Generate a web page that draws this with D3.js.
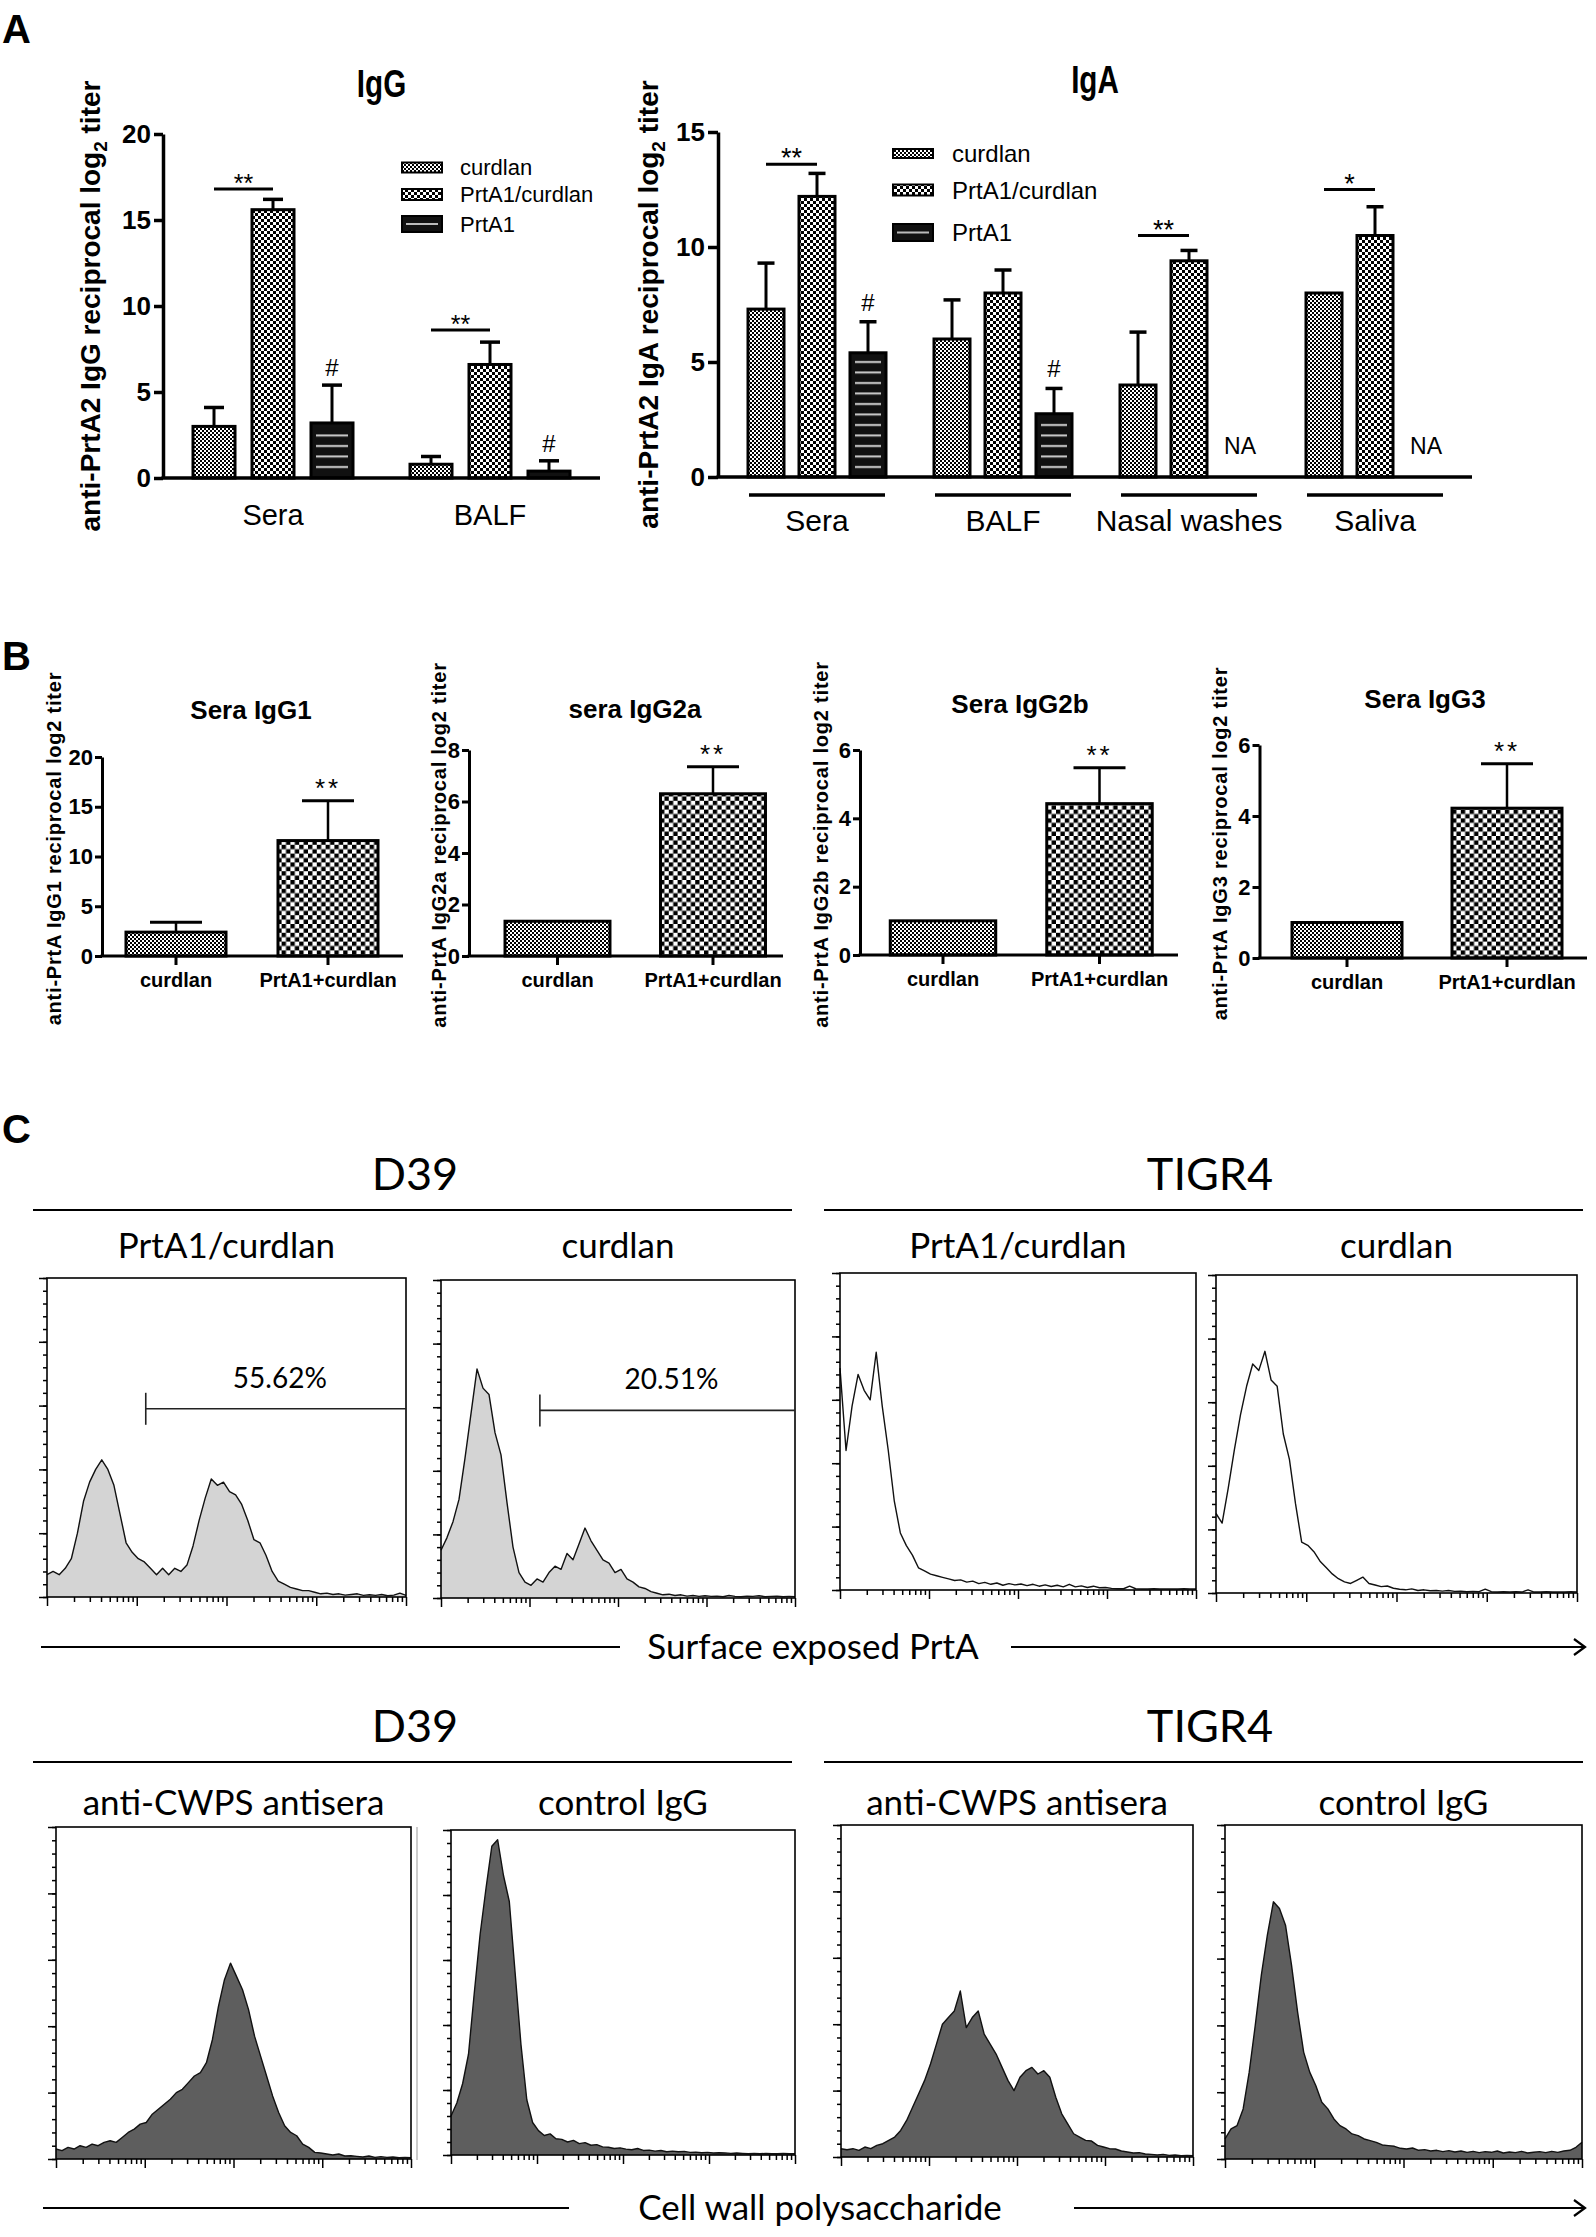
<!DOCTYPE html>
<html><head><meta charset="utf-8">
<script src="https://cdn.jsdelivr.net/npm/d3@7/dist/d3.min.js"></script>
<style>html,body{margin:0;padding:0;background:#fff;}svg{display:block;}</style>
</head><body>
<svg id="fig" width="1596" height="2237" xmlns="http://www.w3.org/2000/svg"></svg>
<script>
// ===================== DATA =====================
// Panel A
const seriesA = ["curdlan", "PrtA1/curdlan", "PrtA1"];
const igGGroups = ["Sera", "BALF"];
const igGMeans = [[3.0, 15.6, 3.2], [0.8, 6.6, 0.4]];
const igGSem = [[1.1, 0.6, 2.2], [0.45, 1.3, 0.6]];
const igGTicks = [0, 5, 10, 15, 20];
const igGSig = [["Sera", 16.8, "**"], ["BALF", 8.6, "**"]];
const igGHash = ["Sera", "BALF"];

const igAGroups = ["Sera", "BALF", "Nasal washes", "Saliva"];
const igAMeans = [[7.3, 12.2, 5.4], [6.0, 8.0, 2.75], [4.0, 9.4, null], [8.0, 10.5, null]];
const igASem = [[2.0, 1.0, 1.35], [1.7, 1.0, 1.1], [2.3, 0.45, null], [0, 1.25, null]];
const igATicks = [0, 5, 10, 15];
const igASig = [["Sera", 13.6, "**"], ["Nasal washes", 10.5, "**"], ["Saliva", 12.5, "*"]];
const igAHash = ["Sera", "BALF"];

// Panel B
const catsB = ["curdlan", "PrtA1+curdlan"];
const bTitles = ["Sera IgG1", "sera IgG2a", "Sera IgG2b", "Sera IgG3"];
const bYTitles = ["anti-PrtA IgG1 reciprocal log2 titer", "anti-PrtA IgG2a reciprocal log2 titer",
                  "anti-PrtA IgG2b reciprocal log2 titer", "anti-PrtA IgG3 reciprocal log2 titer"];
const bMeans = [[2.4, 11.6], [1.35, 6.3], [1.0, 4.43], [1.0, 4.22]];
const bSem = [[1.0, 4.0], [0, 1.05], [0, 1.05], [0, 1.25]];
const bYMax = [20, 8, 6, 6];
const bTickStep = [5, 2, 2, 2];
const bSig = ["**", "**", "**", "**"];

// Panel C (flow histograms, counts per channel bin, 60 bins over 4 log decades)
const cStrains = ["D39", "TIGR4"];
const cTopConds = ["PrtA1/curdlan", "curdlan"];
const cBotConds = ["anti-CWPS antisera", "control IgG"];
const cAxisTitles = ["Surface exposed PrtA", "Cell wall polysaccharide"];
const cGateLabels = ["55.62%", "20.51%"];
const cGateStart = [12.6, 13.1];
const cGateLevel = [59, 59];
const histD39PrtA = [7,8,7,9,12,20,30,36,40,43,40,35,26,17,14,12,11,9,7,9,7,9,8,10,16,24,31,37,35,36,33,32,29,24,18,17,13,8,5,4,3,2.5,2,2,1.5,1,1.2,0.8,1,0.6,0.8,1,0.5,0.7,0.5,0.8,0.4,0.6,1.2,0.5];
const histD39Curd = [15,19,24,31,44,58,72,66,64,52,45,30,16,8,5,4,6,5,8,10,9,14,12,17,22,18,15,12,11,8,9,6,5,3.5,3,2,1.5,1,1.2,0.8,1,0.6,0.8,0.5,0.7,0.5,0.6,0.4,0.8,0.5,0.4,0.6,0.5,0.7,0.4,0.5,0.6,0.4,0.5,0.4];
const histT4PrtA = [70,44,58,68,63,60,75,58,44,28,18,14,11,7,6,5,4.5,4,3.5,3,3.2,2.5,2.8,2,2.4,1.8,2.2,1.5,2,1.6,1.9,1.4,1.8,1.2,1.6,1.1,1.5,1,1.8,1,1.3,0.8,1.2,0.7,0.8,0.5,0.4,0.4,1.2,0.4,0.3,0.3,0.4,0.3,0.3,0.3,0.3,0.4,0.3,0.3];
const histT4Curd = [25,22,33,45,56,65,72,70,76,67,65,50,42,28,16,15,13,10,8,6,4.5,3.5,3,4,5,3,2.5,2,2.2,1.5,1.2,1,1.3,0.8,1,0.7,0.8,0.6,0.8,0.5,0.6,0.4,0.5,0.4,1.2,0.4,0.3,0.4,0.3,0.4,0.3,1.0,0.3,0.3,0.4,0.3,0.3,0.3,0.4,0.3];
const histD39Anti = [3,2.5,3.5,3,4,3.5,4.5,4,5,5.5,5,6.5,8,9,10.5,11,13.5,15,16.5,18,20,21,23,25,26,29,36,46,54,59,55,51,45,37,31,25,19,14,10,8,7,4.5,3.5,2,1.8,1.5,1.2,1.5,0.9,1,0.8,0.6,0.9,0.5,0.7,0.5,0.6,0.4,0.5,0.4];
const histD39Ctrl = [12,16,22,31,50,68,82,95,97,86,78,56,34,17,10,7.5,6,6.5,5,4.8,4,4.5,3.5,3.8,3,3.2,2.5,2.4,2,2.2,1.8,1.6,2,1.4,1.5,1.2,1.4,1,1.2,1,1.1,0.8,0.9,0.7,0.8,0.6,0.7,0.6,0.5,0.6,0.5,0.4,0.5,0.4,0.5,0.4,0.4,0.5,0.4,0.4];
const histT4Anti = [2.5,2.2,2.5,2,3,2.5,3.5,4,5,6,8,11,15,19,23,28,34,40,42,44,50,39,42,44,37,34,31,27,23,20,24,26,27,25,26,24,18,13,10,7,6,5,4.8,3.5,3,2.5,2.4,1.8,1.5,1.2,1.3,0.9,0.8,0.6,0.8,0.5,0.6,0.4,0.5,0.4];
const histT4Ctrl = [6,9,10,15,26,40,55,67,77,75,70,58,44,32,26,22,17,15,12,10,9,7.5,7,6,5.5,5,4.2,4,3.8,3.2,3,3.3,2.6,2.8,2.4,2.6,2.2,2.5,2.1,2.4,2,2.3,1.9,2.2,2,2.4,1.8,2.1,1.9,2.3,1.8,2,2.2,1.9,2.3,2,2.4,2.6,3.5,5];

// ===================== DRAWING =====================
const FONT = "'Liberation Sans', Arial, Helvetica, sans-serif";
const CFONT = "Lato, Carlito, 'Open Sans', sans-serif";
const svg = d3.select("#fig");
svg.append("rect").attr("width", 1596).attr("height", 2237).attr("fill", "#fff");
const defs = svg.append("defs");

function checker(id, cell) {
  const p = defs.append("pattern").attr("id", id).attr("patternUnits", "userSpaceOnUse")
    .attr("width", cell * 2).attr("height", cell * 2);
  p.append("rect").attr("width", cell * 2).attr("height", cell * 2).attr("fill", "#fff");
  p.append("rect").attr("width", cell).attr("height", cell).attr("fill", "#000");
  p.append("rect").attr("x", cell).attr("y", cell).attr("width", cell).attr("height", cell).attr("fill", "#000");
}
checker("chkFine", 2);
checker("chkCoarse", 3);
checker("chkFineB", 2);
checker("chkCoarseB", 4.4);
const sp = defs.append("pattern").attr("id", "stripes").attr("patternUnits", "userSpaceOnUse")
  .attr("width", 10).attr("height", 10.5);
sp.append("rect").attr("y", 4).attr("width", 10).attr("height", 2).attr("fill", "#cfcfcf");

const fillA = {"curdlan": "url(#chkFine)", "PrtA1/curdlan": "url(#chkCoarse)", "PrtA1": "#111"};

function txt(g, x, y, s, size, o = {}) {
  const t = g.append("text").text(s)
    .attr("font-family", o.family || FONT).attr("font-size", size)
    .attr("font-weight", o.weight || "normal").attr("text-anchor", o.anchor || "middle")
    .attr("fill", "#000").attr("letter-spacing", o.ls || null);
  if (o.sx) t.attr("transform", `translate(${x},${y}) scale(${o.sx},1)`);
  else t.attr("x", x).attr("y", y);
  return t;
}
function styleAxis(g, sw, size, weight, family) {
  g.select(".domain").attr("stroke", "#000").attr("stroke-width", sw);
  g.selectAll(".tick line").attr("stroke", "#000").attr("stroke-width", sw);
  g.selectAll(".tick text").attr("font-size", size).attr("font-weight", weight)
    .attr("font-family", family || FONT).attr("fill", "#000");
}

// Panel letters
txt(svg, 2, 43, "A", 40, {weight: "bold", anchor: "start"});
txt(svg, 2, 670, "B", 40, {weight: "bold", anchor: "start"});
txt(svg, 2, 1143, "C", 40, {weight: "bold", anchor: "start"});

// ---------- Panel A ----------
function panelA(c) {
  const g = svg.append("g");
  const y = d3.scaleLinear().domain([0, c.yMax]).range([c.y0, c.y1]);
  const xo = d3.scaleBand().domain(c.groups).range(c.band);
  const xi = d3.scaleBand().domain(seriesA).range(c.inner).paddingInner(c.pad);
  const bx = (gn, s) => xo(gn) + xi(s);
  const cx = (gn, s) => bx(gn, s) + xi.bandwidth() / 2;

  c.groups.forEach((gn, gi) => seriesA.forEach((s, si) => {
    const m = c.means[gi][si], e = c.sem[gi][si];
    if (m == null || !e) return;
    const x = cx(gn, s);
    g.append("line").attr("x1", x).attr("x2", x).attr("y1", y(m)).attr("y2", y(m + e))
      .attr("stroke", "#000").attr("stroke-width", 3);
    g.append("line").attr("x1", x - c.capW / 2).attr("x2", x + c.capW / 2).attr("y1", y(m + e)).attr("y2", y(m + e))
      .attr("stroke", "#000").attr("stroke-width", 3.5);
  }));
  c.groups.forEach((gn, gi) => seriesA.forEach((s, si) => {
    const m = c.means[gi][si];
    if (m == null) return;
    g.append("rect").attr("x", bx(gn, s)).attr("y", y(m)).attr("width", xi.bandwidth())
      .attr("height", y(0) - y(m)).attr("fill", fillA[s]).attr("stroke", "#000").attr("stroke-width", 3);
    if (s === "PrtA1") {
      g.append("rect").attr("x", bx(gn, s) + 5).attr("y", y(m) + 4).attr("width", xi.bandwidth() - 10)
        .attr("height", Math.max(0, y(0) - y(m) - 7)).attr("fill", "url(#stripes)");
    }
  }));
  // y axis
  const ya = g.append("g").attr("transform", `translate(${c.axisX},0)`)
    .call(d3.axisLeft(y).tickValues(c.ticks).tickSize(c.tick).tickSizeOuter(0).tickPadding(3).tickFormat(d3.format("d")));
  styleAxis(ya, 3.5, c.tickFont, "bold");
  // baseline
  g.append("line").attr("x1", c.axisX - 1.5).attr("x2", c.axisX1).attr("y1", y(0)).attr("y2", y(0))
    .attr("stroke", "#000").attr("stroke-width", 3.5);
  // category labels
  const xa = g.append("g").attr("transform", `translate(0,${c.labelY})`)
    .call(d3.axisBottom(xo).tickSize(0).tickPadding(0));
  xa.select(".domain").remove();
  xa.selectAll(".tick line").remove();
  xa.selectAll(".tick text").attr("y", 0).attr("dy", 0).attr("font-size", c.catFont)
    .attr("font-family", FONT).attr("fill", "#000");
  if (c.underline) {
    c.groups.forEach(gn => {
      g.append("line").attr("x1", xo(gn) + 25).attr("x2", xo(gn) + xo.bandwidth() - 25)
        .attr("y1", c.underline).attr("y2", c.underline).attr("stroke", "#000").attr("stroke-width", 3.5);
    });
  }
  // significance
  c.sig.forEach(([gn, lvl, lab]) => {
    const x1 = cx(gn, seriesA[0]), x2 = cx(gn, seriesA[1]);
    g.append("line").attr("x1", x1).attr("x2", x2).attr("y1", y(lvl)).attr("y2", y(lvl))
      .attr("stroke", "#000").attr("stroke-width", 3);
    txt(g, (x1 + x2) / 2, y(lvl) + 3, lab, c.starFont);
  });
  c.hash.forEach(gn => {
    const gi = c.groups.indexOf(gn);
    const top = c.means[gi][2] + c.sem[gi][2];
    txt(g, cx(gn, "PrtA1"), y(top) - c.hashOff, "#", 24);
  });
  c.groups.forEach((gn, gi) => {
    if (c.means[gi][2] == null) txt(g, cx(gn, "PrtA1"), c.naY, "NA", 23);
  });
  // legend
  seriesA.forEach((s, i) => {
    const cy = c.leg.rows[i], h = c.leg.h[i];
    g.append("rect").attr("x", c.leg.x).attr("y", cy - h / 2).attr("width", 40).attr("height", h)
      .attr("fill", fillA[s]).attr("stroke", "#000").attr("stroke-width", 2);
    if (s === "PrtA1") g.append("rect").attr("x", c.leg.x + 4).attr("y", cy - 1).attr("width", 32).attr("height", 2).attr("fill", "#bbb");
    txt(g, c.leg.tx, cy + c.leg.font * 0.36, s, c.leg.font, {anchor: "start"});
  });
  // titles (condensed bold)
  txt(g, (c.axisX + c.axisX1) / 2, c.titleY, c.title, 38, {weight: "bold", sx: 0.78});
  const t = g.append("text").attr("transform", `translate(${c.ytX},${(c.y0 + c.y1) / 2}) rotate(-90)`)
    .attr("text-anchor", "middle").attr("font-family", FONT).attr("font-weight", "bold")
    .attr("font-size", 28).attr("dy", "0.3em").attr("fill", "#000");
  t.append("tspan").text(c.ytitle);
  t.append("tspan").attr("font-size", 19).attr("dy", 7).text("2");
  t.append("tspan").attr("dy", -7).text(" titer");
}

panelA({
  groups: igGGroups, means: igGMeans, sem: igGSem, ticks: igGTicks, sig: igGSig, hash: igGHash,
  yMax: 20, y0: 478, y1: 134, band: [164.5, 598.5], inner: [28.5, 188.5], pad: 0.288,
  axisX: 163, axisX1: 600, tick: 9, tickFont: 26, capW: 20, labelY: 525, catFont: 29,
  starFont: 25, hashOff: 9, naY: 0,
  leg: {x: 402, rows: [167.5, 194.5, 224], h: [10, 11, 16], tx: 460, font: 22},
  title: "IgG", titleY: 97, ytX: 92, ytitle: "anti-PrtA2 IgG reciprocal log"
});
panelA({
  groups: igAGroups, means: igAMeans, sem: igASem, ticks: igATicks, sig: igASig, hash: igAHash,
  yMax: 15, y0: 477, y1: 132, band: [724, 1468], inner: [24, 162], pad: 0.294,
  axisX: 718, axisX1: 1472, tick: 10, tickFont: 26, capW: 17, labelY: 531, catFont: 30,
  underline: 495, starFont: 27, hashOff: 11, naY: 454,
  leg: {x: 893, rows: [153.5, 190, 232.5], h: [9, 11, 17], tx: 952, font: 24},
  title: "IgA", titleY: 93, ytX: 650, ytitle: "anti-PrtA2 IgA reciprocal log"
});

// ---------- Panel B ----------
const bLayout = [
  {ax: 102, ax1: 403, y0: 956, y1: 757, band: [100, 404], pad: 0.342, tx: 251, ty: 719, ytx: 55},
  {ax: 469, ax1: 783, y0: 956, y1: 750, band: [479.75, 790.75], pad: 0.325, tx: 635, ty: 718, ytx: 440},
  {ax: 860, ax1: 1178, y0: 955, y1: 750, band: [864.75, 1177.75], pad: 0.326, tx: 1020, ty: 713, ytx: 822},
  {ax: 1259.5, ax1: 1587, y0: 958, y1: 745, band: [1267, 1587], pad: 0.3125, tx: 1425, ty: 708, ytx: 1221}
];
const fillB = {"curdlan": "url(#chkFineB)", "PrtA1+curdlan": "url(#chkCoarseB)"};
bTitles.forEach((title, i) => {
  const L = bLayout[i];
  const g = svg.append("g");
  const y = d3.scaleLinear().domain([0, bYMax[i]]).range([L.y0, L.y1]);
  const x = d3.scaleBand().domain(catsB).range(L.band).paddingInner(L.pad).paddingOuter(L.pad / 2);
  catsB.forEach((c, ci) => {
    const m = bMeans[i][ci], e = bSem[i][ci];
    if (!e) return;
    const cx = x(c) + x.bandwidth() / 2;
    g.append("line").attr("x1", cx).attr("x2", cx).attr("y1", y(m)).attr("y2", y(m + e)).attr("stroke", "#000").attr("stroke-width", 2.5);
    g.append("line").attr("x1", cx - 26).attr("x2", cx + 26).attr("y1", y(m + e)).attr("y2", y(m + e)).attr("stroke", "#000").attr("stroke-width", 3);
  });
  catsB.forEach((c, ci) => {
    const m = bMeans[i][ci];
    g.append("rect").attr("x", x(c)).attr("y", y(m)).attr("width", x.bandwidth()).attr("height", y(0) - y(m))
      .attr("fill", fillB[c]).attr("stroke", "#000").attr("stroke-width", 3);
  });
  const ya = g.append("g").attr("transform", `translate(${L.ax},0)`)
    .call(d3.axisLeft(y).tickValues(d3.range(0, bYMax[i] + 0.001, bTickStep[i]))
      .tickSize(7).tickSizeOuter(0).tickPadding(2).tickFormat(d3.format("d")));
  styleAxis(ya, 3, 22, "bold");
  g.append("line").attr("x1", L.ax - 1.5).attr("x2", L.ax1).attr("y1", y(0)).attr("y2", y(0)).attr("stroke", "#000").attr("stroke-width", 3);
  const xa = g.append("g").attr("transform", `translate(0,${y(0)})`)
    .call(d3.axisBottom(x).tickSize(9).tickPadding(8));
  xa.select(".domain").remove();
  styleAxis(xa, 3, 20, "bold");
  const top = bMeans[i][1] + bSem[i][1];
  txt(g, x(catsB[1]) + x.bandwidth() / 2, y(top) - 4, bSig[i], 26, {ls: 3});
  txt(g, L.tx, L.ty, title, 26, {weight: "bold"});
  g.append("text").attr("transform", `translate(${L.ytx},${(L.y0 + L.y1) / 2 - 8}) rotate(-90)`)
    .attr("text-anchor", "middle").attr("font-family", FONT).attr("font-weight", "bold")
    .attr("font-size", 20).attr("letter-spacing", 0.8).attr("dy", "0.3em").attr("fill", "#000").text(bYTitles[i]);
});

// ---------- Panel C ----------
const cBoxes = [
  {x0: 47, x1: 406, y0: 1278, y1: 1597}, {x0: 441, x1: 795, y0: 1280, y1: 1598},
  {x0: 840, x1: 1196, y0: 1273, y1: 1590}, {x0: 1216, x1: 1577, y0: 1275, y1: 1593},
  {x0: 56, x1: 411, y0: 1827, y1: 2159}, {x0: 451, x1: 795, y0: 1830, y1: 2155},
  {x0: 841, x1: 1193, y0: 1825, y1: 2157}, {x0: 1225, x1: 1582, y0: 1825, y1: 2159}
];
const cHists = [histD39PrtA, histD39Curd, histT4PrtA, histT4Curd, histD39Anti, histD39Ctrl, histT4Anti, histT4Ctrl];
const cFills = ["#d4d4d4", "#d4d4d4", "none", "none", "#5e5e5e", "#5e5e5e", "#5e5e5e", "#5e5e5e"];

function drawHist(k) {
  const b = cBoxes[k], data = cHists[k];
  const g = svg.append("g");
  const x = d3.scaleLog().domain([1, 1e4]).range([b.x0, b.x1]);
  const y = d3.scaleLinear().domain([0, 100]).range([b.y1, b.y0]);
  const n = data.length;
  const pts = data.map((v, i) => ({f: Math.pow(10, 4 * i / (n - 1)), v}));
  if (cFills[k] !== "none") {
    g.append("path").datum(pts).attr("fill", cFills[k])
      .attr("d", d3.area().x(d => x(d.f)).y0(y(0)).y1(d => y(d.v)));
  }
  g.append("path").datum(pts).attr("fill", "none").attr("stroke", "#111").attr("stroke-width", 1.4)
    .attr("stroke-linejoin", "round")
    .attr("d", d3.line().x(d => x(d.f)).y(d => y(d.v)));
  g.append("rect").attr("x", b.x0).attr("y", b.y0).attr("width", b.x1 - b.x0).attr("height", b.y1 - b.y0)
    .attr("fill", "none").attr("stroke", "#000").attr("stroke-width", 1.6);
  const yMinor = g.append("g").attr("transform", `translate(${b.x0},0)`)
    .call(d3.axisLeft(y).tickValues(d3.range(0, 101, 4)).tickSize(4).tickFormat(""));
  yMinor.select(".domain").remove();
  const yMajor = g.append("g").attr("transform", `translate(${b.x0},0)`)
    .call(d3.axisLeft(y).tickValues(d3.range(0, 101, 20)).tickSize(8).tickFormat(""));
  yMajor.select(".domain").remove();
  const decades = [1, 10, 100, 1000, 10000];
  const xMinor = g.append("g").attr("transform", `translate(0,${b.y1})`)
    .call(d3.axisBottom(x).tickValues(x.ticks().filter(t => !decades.includes(t))).tickSize(5).tickFormat(""));
  xMinor.select(".domain").remove();
  const xMajor = g.append("g").attr("transform", `translate(0,${b.y1})`)
    .call(d3.axisBottom(x).tickValues(decades).tickSize(9).tickFormat(""));
  xMajor.select(".domain").remove();
  [yMinor, yMajor, xMinor, xMajor].forEach(a => a.selectAll(".tick line").attr("stroke", "#000").attr("stroke-width", 1.5));
  if (k < 2) {
    const gx = x(cGateStart[k]), gy = y(cGateLevel[k]);
    g.append("line").attr("x1", gx).attr("x2", b.x1).attr("y1", gy).attr("y2", gy).attr("stroke", "#222").attr("stroke-width", 1.6);
    g.append("line").attr("x1", gx).attr("x2", gx).attr("y1", gy - 16).attr("y2", gy + 16).attr("stroke", "#222").attr("stroke-width", 1.6);
    txt(g, (gx + b.x1) / 2 + 4, gy - 21, cGateLabels[k], 28, {family: CFONT});
  }
}
cBoxes.forEach((b, k) => drawHist(k));

// strain headers and condition labels
const cg = svg.append("g");
[[1190, 1210, 1258, cTopConds], [1742, 1762, 1815, cBotConds]].forEach(([ty, ly, sy, conds], row) => {
  const bx = row === 0 ? cBoxes.slice(0, 4) : cBoxes.slice(4);
  txt(cg, 415, ty, cStrains[0], 45, {family: CFONT});
  txt(cg, 1210, ty, cStrains[1], 45, {family: CFONT});
  cg.append("line").attr("x1", 33).attr("x2", 792).attr("y1", ly).attr("y2", ly).attr("stroke", "#000").attr("stroke-width", 1.8);
  cg.append("line").attr("x1", 824).attr("x2", 1583).attr("y1", ly).attr("y2", ly).attr("stroke", "#000").attr("stroke-width", 1.8);
  bx.forEach((b, i) => txt(cg, (b.x0 + b.x1) / 2, sy, conds[i % 2], 35, {family: CFONT}));
});
// stray double border line next to D39 anti-CWPS box
cg.append("line").attr("x1", 417).attr("x2", 417).attr("y1", 1827).attr("y2", 2160).attr("stroke", "#999").attr("stroke-width", 1);

// axis titles with arrows
[[1647, cAxisTitles[0], 41, 620, 813, 1011], [2208, cAxisTitles[1], 43, 569, 820, 1074]].forEach(([ly, label, l0, l1, tx, a0]) => {
  cg.append("line").attr("x1", l0).attr("x2", l1).attr("y1", ly).attr("y2", ly).attr("stroke", "#000").attr("stroke-width", 2.2);
  txt(cg, tx, ly + 12, label, 35, {family: CFONT});
  cg.append("line").attr("x1", a0).attr("x2", 1584).attr("y1", ly).attr("y2", ly).attr("stroke", "#000").attr("stroke-width", 2.2);
  cg.append("path").attr("d", `M1574,${ly - 8} L1585,${ly} L1574,${ly + 8}`).attr("fill", "none")
    .attr("stroke", "#000").attr("stroke-width", 2.2);
});
</script>
</body></html>
